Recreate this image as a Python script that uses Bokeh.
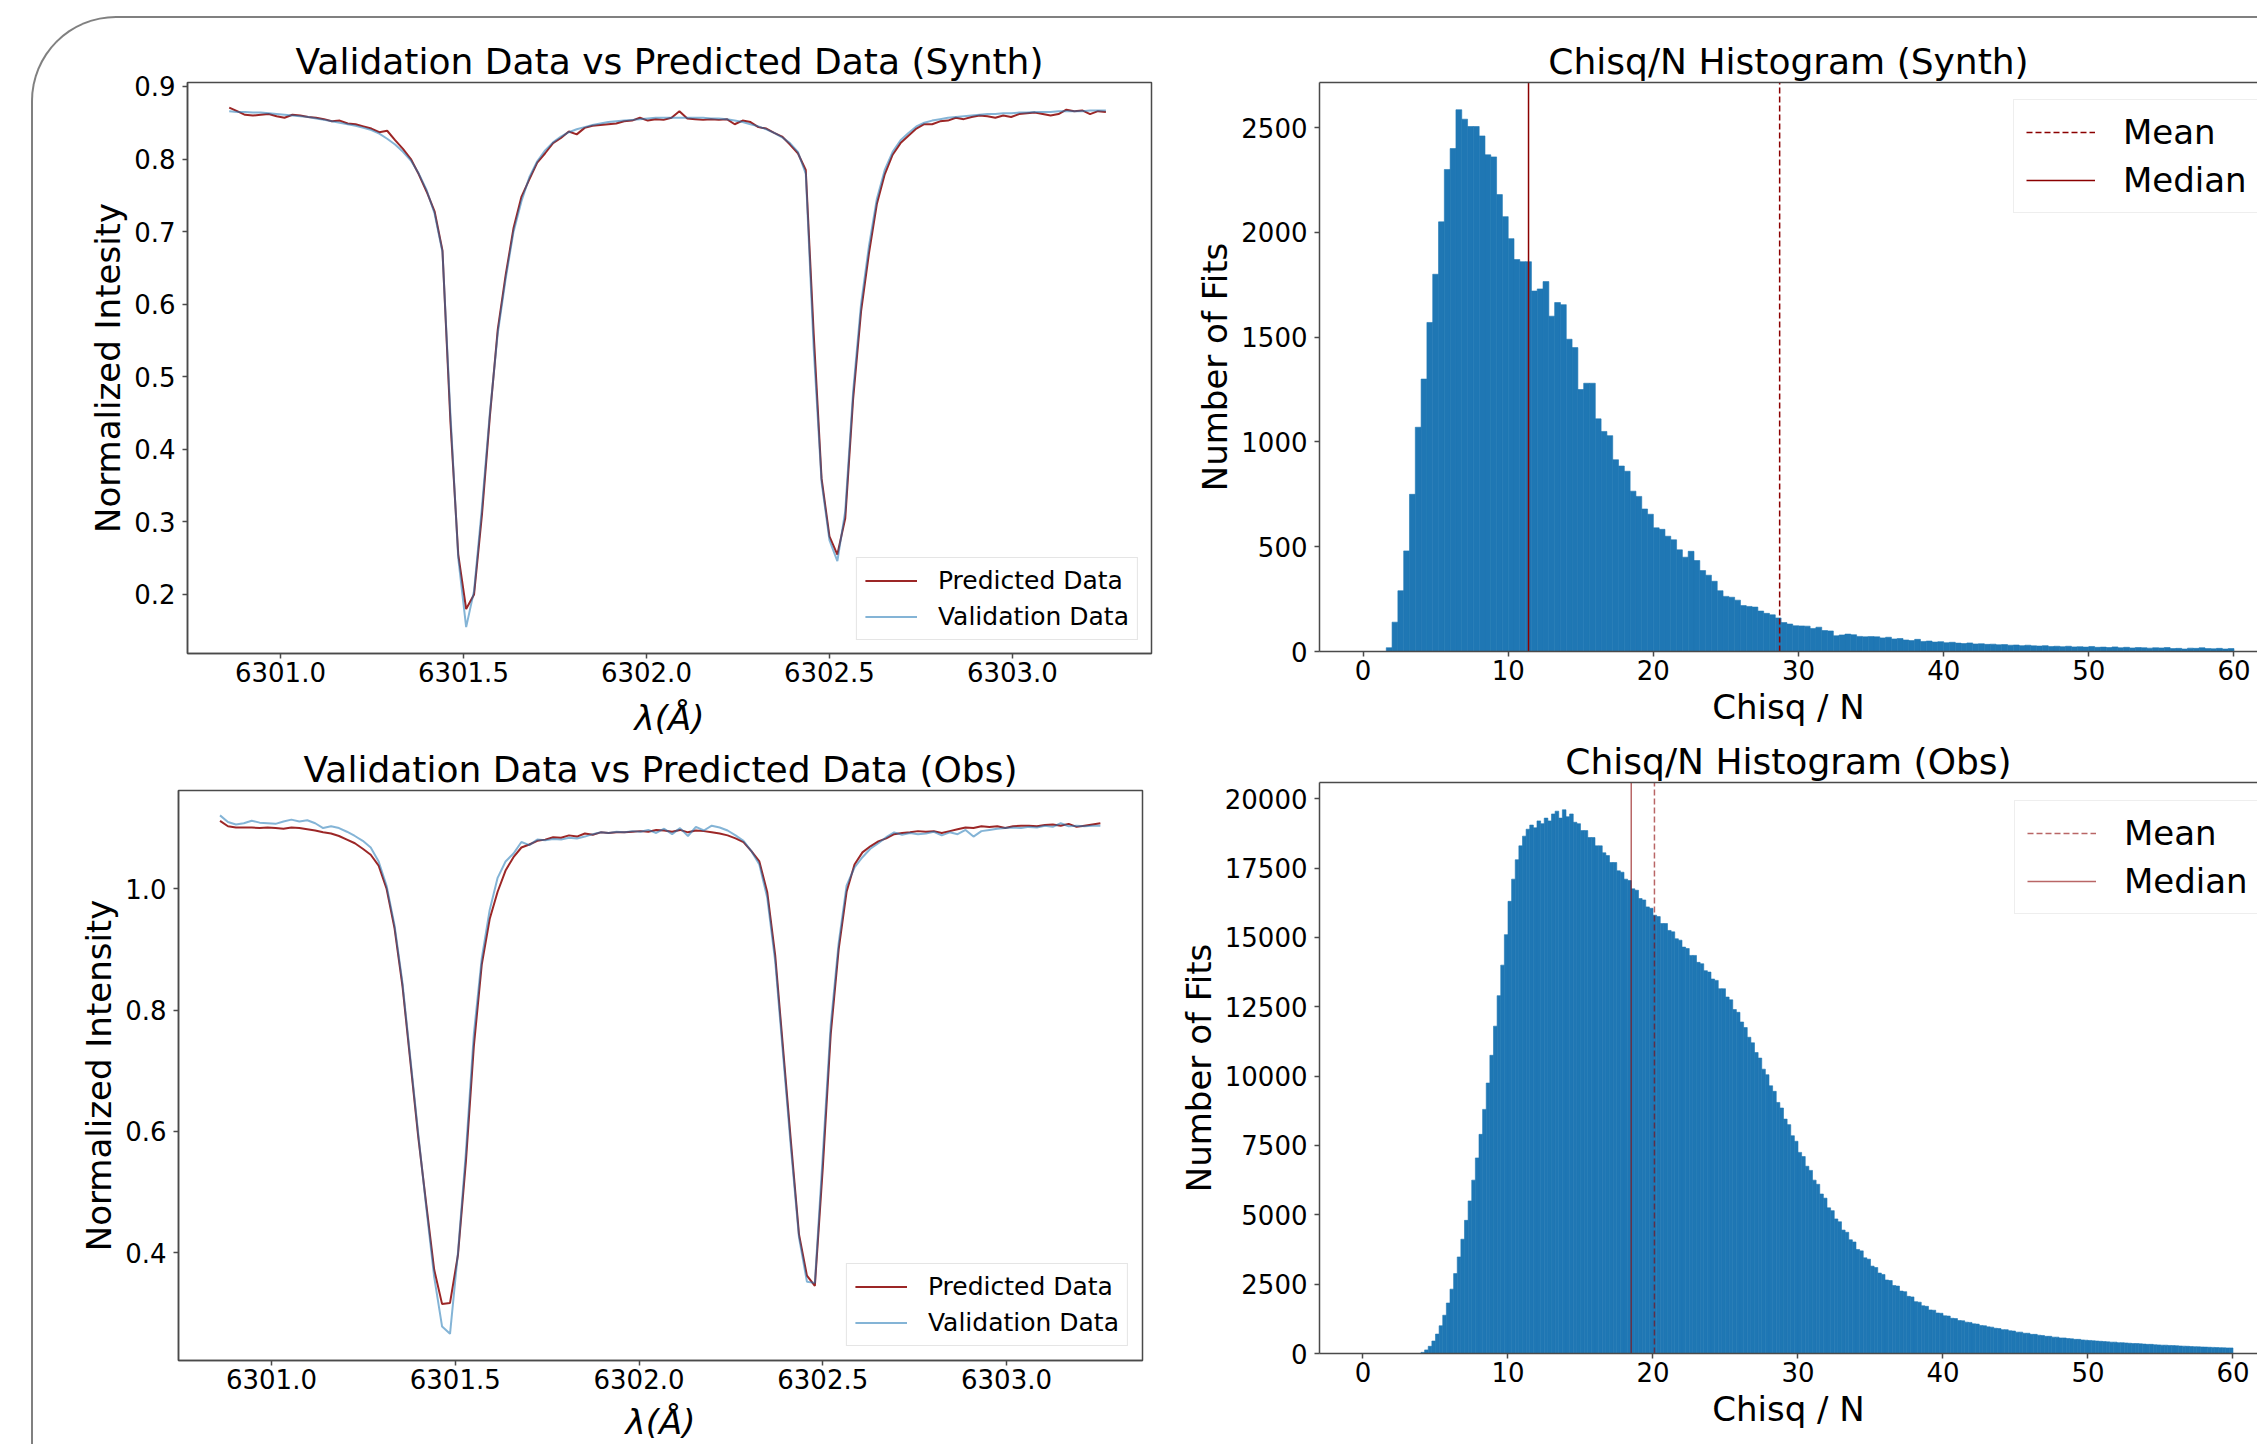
import numpy as np
from bokeh.plotting import figure
from bokeh.models import (Range1d, FixedTicker, Legend, LegendItem, LinearAxis,
                          ColumnDataSource, PrintfTickFormatter)
from bokeh.layouts import row, column
from bokeh.embed import file_html
from bokeh.resources import INLINE

FONT = "DejaVu Sans"
AXC = "#4a4a4a"
RED = "#8b0000"
BLUE = "#1f77b4"

# ---------------- spectral data (wavelength grid: start + step) ----------------
wl_start = 6300.86
wl_step = 0.02158

synth_pred = [0.871, 0.866, 0.861, 0.860, 0.861, 0.862, 0.859, 0.857, 0.861, 0.860,
              0.858, 0.857, 0.855, 0.852, 0.853, 0.849, 0.848, 0.845, 0.842, 0.837,
              0.839, 0.826, 0.814, 0.800, 0.779, 0.755, 0.728, 0.674, 0.440, 0.255,
              0.180, 0.200, 0.310, 0.445, 0.565, 0.640, 0.705, 0.748, 0.772, 0.795,
              0.808, 0.822, 0.829, 0.838, 0.834, 0.843, 0.846, 0.847, 0.848, 0.849,
              0.852, 0.853, 0.857, 0.853, 0.855, 0.854, 0.857, 0.866, 0.856, 0.855,
              0.854, 0.855, 0.854, 0.855, 0.848, 0.853, 0.851, 0.844, 0.842, 0.836,
              0.831, 0.820, 0.808, 0.785, 0.560, 0.360, 0.280, 0.255, 0.305, 0.470,
              0.590, 0.670, 0.738, 0.779, 0.806, 0.822, 0.832, 0.842, 0.848, 0.848,
              0.852, 0.853, 0.857, 0.855, 0.858, 0.860, 0.859, 0.857, 0.860, 0.858,
              0.862, 0.863, 0.864, 0.862, 0.860, 0.862, 0.868, 0.866, 0.867, 0.862,
              0.866, 0.865]

synth_valid = [0.866, 0.865, 0.865, 0.864, 0.864, 0.863, 0.862, 0.861, 0.860, 0.859,
               0.858, 0.856, 0.854, 0.852, 0.850, 0.848, 0.846, 0.843, 0.840, 0.835,
               0.828, 0.820, 0.810, 0.798, 0.780, 0.757, 0.725, 0.672, 0.450, 0.250,
               0.155, 0.205, 0.320, 0.450, 0.560, 0.635, 0.700, 0.742, 0.775, 0.797,
               0.812, 0.823, 0.831, 0.837, 0.841, 0.844, 0.847, 0.849, 0.851, 0.852,
               0.853, 0.854, 0.855, 0.856, 0.857, 0.857, 0.857, 0.857, 0.857, 0.857,
               0.857, 0.856, 0.856, 0.855, 0.853, 0.851, 0.848, 0.845, 0.841, 0.836,
               0.830, 0.822, 0.810, 0.780, 0.540, 0.355, 0.275, 0.246, 0.315, 0.480,
               0.600, 0.680, 0.745, 0.785, 0.810, 0.826, 0.836, 0.845, 0.850, 0.853,
               0.855, 0.857, 0.858, 0.859, 0.860, 0.861, 0.862, 0.862, 0.863, 0.863,
               0.864, 0.864, 0.865, 0.865, 0.865, 0.866, 0.866, 0.866, 0.866, 0.867,
               0.867, 0.867]

obs_pred = [1.112, 1.103, 1.101, 1.101, 1.101, 1.100, 1.101, 1.100, 1.099, 1.101,
            1.100, 1.098, 1.096, 1.093, 1.091, 1.087, 1.081, 1.075, 1.066, 1.056,
            1.038, 1.000, 0.935, 0.840, 0.715, 0.590, 0.480, 0.372, 0.315, 0.317,
            0.396, 0.550, 0.740, 0.875, 0.950, 0.995, 1.030, 1.052, 1.068, 1.073,
            1.079, 1.081, 1.085, 1.084, 1.088, 1.086, 1.091, 1.089, 1.093, 1.092,
            1.093, 1.093, 1.094, 1.095, 1.094, 1.097, 1.096, 1.094, 1.097, 1.093,
            1.096, 1.095, 1.093, 1.091, 1.088, 1.083, 1.077, 1.062, 1.045, 0.994,
            0.890, 0.735, 0.580, 0.430, 0.362, 0.345, 0.540, 0.760, 0.900, 0.995,
            1.040, 1.060, 1.070, 1.078, 1.083, 1.090, 1.092, 1.093, 1.095, 1.094,
            1.095, 1.092, 1.095, 1.098, 1.101, 1.100, 1.103, 1.102, 1.103, 1.100,
            1.103, 1.104, 1.104, 1.103, 1.105, 1.106, 1.104, 1.107, 1.102, 1.104,
            1.106, 1.108]

obs_valid = [1.121, 1.110, 1.106, 1.108, 1.112, 1.109, 1.108, 1.107, 1.111, 1.114,
             1.111, 1.113, 1.108, 1.100, 1.103, 1.100, 1.094, 1.087, 1.079, 1.068,
             1.045, 1.005, 0.940, 0.845, 0.720, 0.595, 0.475, 0.360, 0.278, 0.266,
             0.400, 0.565, 0.760, 0.885, 0.965, 1.018, 1.045, 1.058, 1.077, 1.072,
             1.081, 1.080, 1.082, 1.081, 1.084, 1.083, 1.086, 1.090, 1.093, 1.092,
             1.094, 1.093, 1.095, 1.094, 1.097, 1.092, 1.099, 1.090, 1.100, 1.087,
             1.102, 1.096, 1.104, 1.101, 1.096, 1.088, 1.079, 1.062, 1.040, 0.985,
             0.880, 0.725, 0.570, 0.425, 0.352, 0.350, 0.560, 0.775, 0.910, 1.005,
             1.035, 1.052, 1.066, 1.075, 1.085, 1.093, 1.089, 1.092, 1.090, 1.091,
             1.094, 1.088, 1.093, 1.090, 1.097, 1.086, 1.095, 1.097, 1.099, 1.100,
             1.101, 1.100, 1.102, 1.101, 1.104, 1.102, 1.108, 1.103, 1.104, 1.103,
             1.104, 1.104]

wl_ticks = [6301.0, 6301.5, 6302.0, 6302.5, 6303.0]
synth_int_ticks = [0.2, 0.3, 0.4, 0.5, 0.6, 0.7, 0.8, 0.9]
obs_int_ticks = [0.4, 0.6, 0.8, 1.0]

# ---------------- histogram data ----------------
synth_bin_start, synth_bin_width = 1.6, 0.4
synth_counts = [18, 140, 290, 480, 750, 1070, 1300, 1570, 1800, 2050,
                2300, 2400, 2585, 2540, 2505, 2505, 2460, 2370, 2360, 2180,
                2075, 1970, 1870, 1860, 1860, 1720, 1730, 1765, 1600, 1665,
                1655, 1490, 1450, 1250, 1280, 1280, 1110, 1050, 1030, 915,
                885, 860, 765, 740, 680, 655, 590, 583, 550, 533,
                485, 450, 478, 434, 386, 364, 335, 290, 263, 259,
                245, 219, 215, 212, 193, 182, 175, 160, 138, 131,
                123, 122, 121, 110, 116, 100, 98, 75, 79, 83,
                80, 72, 70, 71, 70, 65, 68, 60, 62, 55,
                52, 58, 48, 50, 45, 47, 42, 44, 40, 38,
                41, 36, 37, 34, 35, 32, 33, 30, 31, 28,
                30, 27, 26, 28, 24, 25, 23, 25, 22, 23,
                21, 24, 20, 21, 19, 22, 18, 20, 17, 19,
                18, 16, 18, 17, 19, 14, 15, 12, 16, 15,
                18, 14, 13, 15, 12, 14]
synth_mean, synth_median = 28.7, 11.4
synth_count_ticks = [0, 500, 1000, 1500, 2000, 2500]

obs_bin_start, obs_bin_width = 4.0, 0.25
obs_counts = [40, 130, 260, 450, 700, 1000, 1380, 1820, 2320, 2880,
              3480, 4120, 4800, 5500, 6250, 7050, 7900, 8800, 9750, 10750,
              11800, 12900, 14000, 15100, 16300, 17100, 17800, 18300, 18650, 18900,
              19050, 18950, 19200, 19100, 19300, 19200, 19450, 19550, 19300, 19600,
              19350, 19450, 19150, 19100, 18850, 18850, 18600, 18600, 18300, 18300,
              18050, 17950, 17700, 17700, 17400, 17350, 17100, 17050, 16750, 16700,
              16400, 16350, 16100, 16050, 15800, 15750, 15500, 15500, 15250, 15200,
              14950, 14900, 14650, 14600, 14350, 14350, 14100, 14050, 13800, 13750,
              13500, 13450, 13150, 13150, 12850, 12750, 12400, 12300, 11950, 11750,
              11400, 11200, 10850, 10650, 10250, 10050, 9650, 9450, 9050, 8850,
              8450, 8250, 7850, 7650, 7250, 7100, 6750, 6600, 6250, 6100,
              5750, 5600, 5250, 5150, 4850, 4750, 4450, 4370, 4100, 4020,
              3750, 3700, 3450, 3400, 3150, 3100, 2900, 2850, 2650, 2630,
              2450, 2430, 2250, 2230, 2060, 2040, 1870, 1850, 1720, 1700,
              1570, 1560, 1460, 1450, 1360, 1350, 1270, 1260, 1190, 1180,
              1130, 1120, 1070, 1060, 1010, 1000, 960, 950, 910, 900,
              860, 860, 820, 810, 770, 770, 730, 730, 690, 690,
              660, 650, 620, 620, 590, 590, 560, 560, 540, 530,
              510, 510, 490, 480, 470, 460, 450, 440, 430, 420,
              410, 410, 390, 390, 380, 370, 360, 360, 350, 340,
              330, 330, 315, 310, 300, 300, 290, 285, 280, 270,
              265, 260, 250, 245, 240, 235, 230, 225, 220, 215,
              210, 205, 200, 200]
obs_mean, obs_median = 20.1, 18.5
obs_count_ticks = [0, 2500, 5000, 7500, 10000, 12500, 15000, 17500, 20000]
chisq_ticks = [0, 10, 20, 30, 40, 50, 60]


def style_fig(p, title):
    p.title.text = title
    p.title.text_font = FONT
    p.title.text_font_size = "36px"
    p.title.text_font_style = "normal"
    p.title.text_color = "black"
    p.title.align = "center"
    p.title.standoff = 1
    p.border_fill_color = None
    p.background_fill_color = "white"
    p.outline_line_color = AXC
    p.outline_line_width = 1.5
    p.grid.visible = False
    for ax in (p.below[0], p.left[0]):
        ax.axis_line_color = AXC
        ax.axis_line_width = 1.5
        ax.major_tick_line_color = AXC
        ax.major_tick_line_width = 1.5
        ax.major_tick_in = 0
        ax.major_tick_out = 5
        ax.minor_tick_line_color = None
        ax.major_label_text_font = FONT
        ax.major_label_text_font_size = "26px"
        ax.major_label_text_color = "black"
        ax.axis_label_text_font = FONT
        ax.axis_label_text_font_size = "34px"
        ax.axis_label_text_color = "black"
        ax.axis_label_text_font_style = "normal"
    p.below[0].major_label_standoff = 3
    p.left[0].major_label_standoff = 7
    p.below[0].axis_label_standoff = 4
    p.left[0].axis_label_standoff = 3


def spectrum(width, height, xr, yr, borders, title, pred, valid, yticks, ylabel,
             legend_margin, xlabel_standoff):
    p = figure(width=width, height=height, x_range=Range1d(*xr), y_range=Range1d(*yr),
               output_backend="svg", toolbar_location=None,
               min_border_left=borders[0], min_border_right=borders[1],
               min_border_top=borders[2], min_border_bottom=borders[3])
    style_fig(p, title)
    wl = [round(wl_start + wl_step * i, 5) for i in range(len(pred))]
    src = ColumnDataSource(dict(wl=wl, pred=pred, valid=valid))
    r1 = p.line("wl", "pred", source=src, line_color=RED, line_alpha=0.85, line_width=2)
    r2 = p.line("wl", "valid", source=src, line_color=BLUE, line_alpha=0.55, line_width=2)
    xa, ya = p.below[0], p.left[0]
    xa.ticker = FixedTicker(ticks=wl_ticks)
    ya.ticker = FixedTicker(ticks=yticks)
    xa.formatter = PrintfTickFormatter(format="%.1f")
    ya.formatter = PrintfTickFormatter(format="%.1f")
    xa.axis_label = "λ(Å)"
    xa.axis_label_text_font_style = "italic"
    xa.axis_label_standoff = xlabel_standoff
    ya.axis_label = ylabel
    leg = Legend(items=[LegendItem(label="Predicted Data", renderers=[r1]),
                        LegendItem(label="Validation Data", renderers=[r2])],
                 location="bottom_right", margin=legend_margin, padding=8, spacing=7,
                 glyph_width=52, glyph_height=29, label_height=29, label_standoff=21,
                 label_text_font=FONT, label_text_font_size="25px", label_text_color="black",
                 border_line_color="#cccccc", border_line_width=1,
                 background_fill_color="white", background_fill_alpha=0.8)
    p.add_layout(leg)
    return p


def histogram(width, height, xr, yr, borders, title, start, bw, counts, mean, median,
              yticks, alpha, legend_loc):
    p = figure(width=width, height=height, x_range=Range1d(*xr), y_range=Range1d(*yr),
               output_backend="svg", toolbar_location=None,
               min_border_left=borders[0], min_border_right=borders[1],
               min_border_top=borders[2], min_border_bottom=borders[3])
    style_fig(p, title)
    p.outline_line_color = None
    lefts = [round(start + bw * i, 3) for i in range(len(counts))]
    rights = [round(l + bw, 3) for l in lefts]
    src = ColumnDataSource(dict(left=lefts, right=rights, top=counts))
    p.quad(left="left", right="right", top="top", bottom=0, source=src,
           fill_color=BLUE, line_color=BLUE, line_width=0.6)
    ytop = yr[1]
    r_mean = p.segment(x0=[mean], y0=[0], x1=[mean], y1=[ytop], line_color=RED,
                       line_alpha=alpha, line_width=1.5, line_dash="6 3")
    r_med = p.segment(x0=[median], y0=[0], x1=[median], y1=[ytop], line_color=RED,
                      line_alpha=alpha, line_width=1.5)
    xa, ya = p.below[0], p.left[0]
    xa.ticker = FixedTicker(ticks=chisq_ticks)
    ya.ticker = FixedTicker(ticks=yticks)
    xa.formatter = PrintfTickFormatter(format="%d")
    ya.formatter = PrintfTickFormatter(format="%d")
    xa.axis_label = "Chisq / N"
    ya.axis_label = "Number of Fits"
    leg = Legend(items=[LegendItem(label="Mean", renderers=[r_mean]),
                        LegendItem(label="Median", renderers=[r_med])],
                 location=legend_loc, margin=0, padding=12, spacing=8,
                 glyph_width=69, glyph_height=40, label_height=40, label_standoff=28,
                 label_text_font=FONT, label_text_font_size="34px", label_text_color="black",
                 border_line_color="#dddddd", border_line_width=1,
                 background_fill_color="white", background_fill_alpha=0.8)
    p.add_layout(leg)
    # top spine only (the right side of the axes box lies beyond the page edge)
    top_ax = LinearAxis(ticker=FixedTicker(ticks=[]), axis_line_color=AXC, axis_line_width=1.5,
                        major_tick_line_color=None, minor_tick_line_color=None,
                        major_tick_in=0, major_tick_out=0, major_label_standoff=0,
                        axis_label_standoff=0)
    p.add_layout(top_ax, "above")
    return p


p1 = spectrum(1132, 724, (6300.746, 6303.380), (0.1187, 0.9055), (154, 14, 64, 89),
              "Validation Data vs Predicted Data (Synth)", synth_pred, synth_valid,
              synth_int_ticks, "Normalized Intesity", 13, 13)
p3 = spectrum(1132, 702, (6300.747, 6303.370), (0.222, 1.162), (154, 14, 48, 84),
              "Validation Data vs Predicted Data (Obs)", obs_pred, obs_valid,
              obs_int_ticks, "Normalized Intensity", 14, 10)
# the lower-left panel sits a little to the left of the upper one
p3.styles = {"position": "relative", "left": "-9px"}
p2 = histogram(1092, 714, (-3.0, 61.62), (0, 2715), (154, 0, 64, 81),
               "Chisq/N Histogram (Synth)", synth_bin_start, synth_bin_width, synth_counts,
               synth_mean, synth_median, synth_count_ticks, 1.0, (694, 438))
p4 = histogram(1092, 712, (-3.0, 61.69), (0, 20584), (154, 0, 50, 91),
               "Chisq/N Histogram (Obs)", obs_bin_start, obs_bin_width, obs_counts,
               obs_mean, obs_median, obs_count_ticks, 0.6, (695, 439))

layout = row(column(p1, p3), column(p2, p4),
             styles={"border-top": "2px solid #808080",
                     "border-left": "2px solid #808080",
                     "border-top-left-radius": "85px",
                     "position": "relative", "top": "16px", "left": "31px"})

open("out.html", "w").write(file_html(layout, INLINE))
